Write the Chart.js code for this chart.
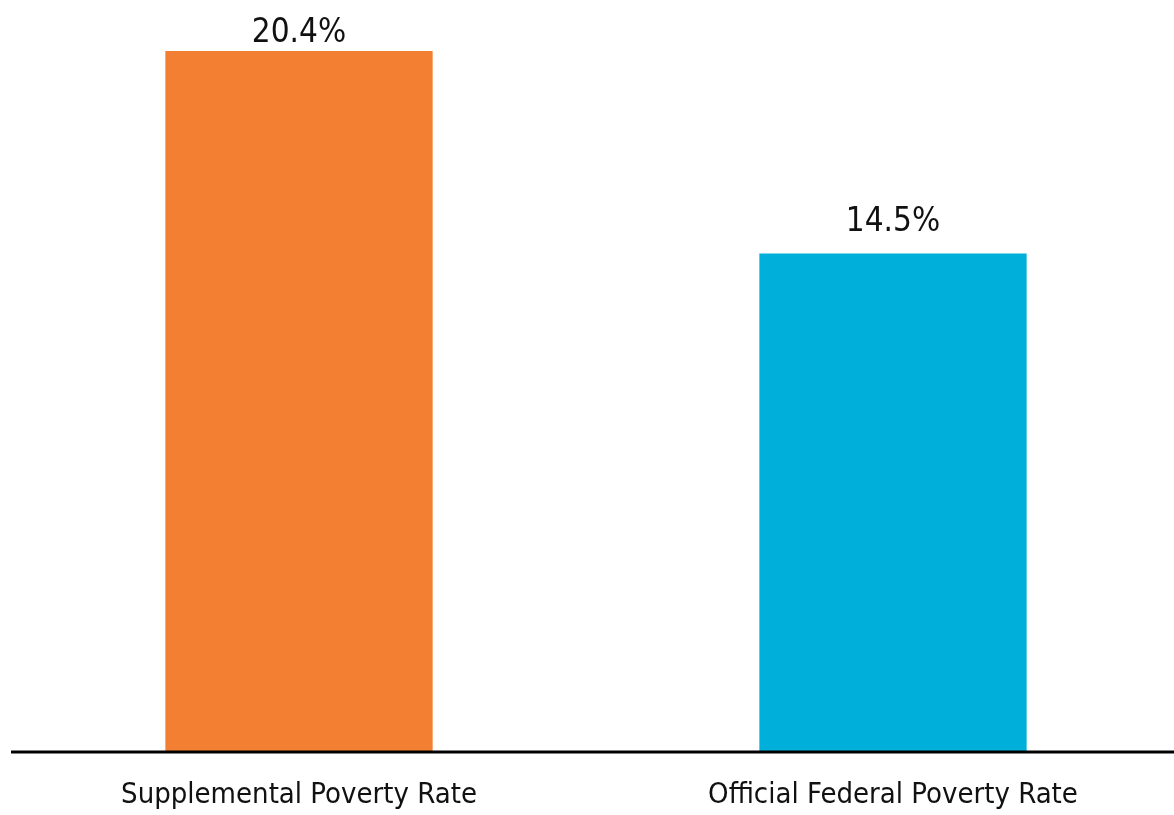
<!DOCTYPE html>
<html>
<head>
<meta charset="utf-8">
<script src="https://cdn.jsdelivr.net/npm/chart.js@4"></script>
<style>
  html, body { margin: 0; padding: 0; background: #fff; overflow: hidden; }
  #wrap { position: relative; width: 1190px; height: 815px; }
</style>
</head>
<body>
<div id="wrap"><canvas id="c"></canvas></div>
<script>
const categories = ["Supplemental Poverty Rate", "Official Federal Poverty Rate"];
const values = [20.4, 14.5];
const valueLabels = ["20.4%", "14.5%"];
const barColors = ["#F37F32", "#00B0DB"];

const FONT = "'Liberation Sans Narrow', 'DejaVu Sans Condensed', sans-serif";

const valueLabelPlugin = {
  id: 'valueLabels',
  afterDatasetsDraw(chart, args, opts) {
    const ctx = chart.ctx;
    const meta = chart.getDatasetMeta(0);
    ctx.save();
    ctx.fillStyle = '#111';
    ctx.font = "33px " + FONT;
    ctx.textAlign = 'center';
    ctx.textBaseline = 'alphabetic';
    meta.data.forEach((bar, i) => {
      const gap = (opts.gaps && opts.gaps[i] != null) ? opts.gaps[i] : 9;
      ctx.fillText(valueLabels[i], bar.x, bar.y - gap);
    });
    ctx.restore();
  }
};

const baselinePlugin = {
  id: 'baseline',
  afterDatasetsDraw(chart) {
    const ctx = chart.ctx;
    const y = chart.scales.y.getPixelForValue(0);
    ctx.save();
    ctx.strokeStyle = '#000';
    ctx.lineWidth = 3;
    ctx.beginPath();
    ctx.moveTo(11, y + 1);
    ctx.lineTo(chart.width, y + 1);
    ctx.stroke();
    ctx.restore();
  }
};

new Chart(document.getElementById('c'), {
  type: 'bar',
  data: {
    labels: categories,
    datasets: [{
      data: values,
      backgroundColor: barColors,
      borderWidth: 0,
      categoryPercentage: 1,
      barPercentage: 0.45
    }]
  },
  options: {
    responsive: true,
    maintainAspectRatio: false,
    animation: false,
    layout: { padding: { top: 51, left: 2, right: 0, bottom: 0 } },
    plugins: {
      legend: { display: false },
      tooltip: { enabled: false },
      valueLabels: { gaps: [9, 22] }
    },
    scales: {
      y: { display: false, min: 0, max: 20.4 },
      x: {
        grid: { display: false },
        border: { display: false },
        afterFit(scale) { scale.height = 64; },
        ticks: {
          color: '#111',
          padding: 19,
          font: { family: FONT, size: 29 },
          maxRotation: 0,
          autoSkip: false
        }
      }
    }
  },
  plugins: [valueLabelPlugin, baselinePlugin]
});
</script>
</body>
</html>
